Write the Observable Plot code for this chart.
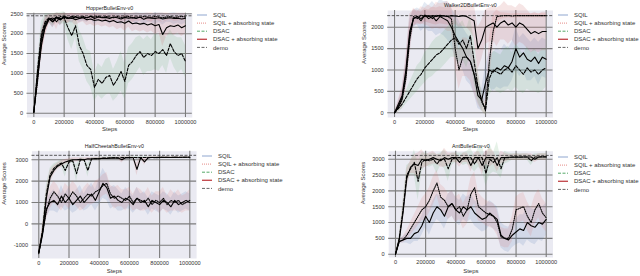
<!DOCTYPE html>
<html><head><meta charset="utf-8">
<script src="https://cdn.jsdelivr.net/npm/d3@7"></script>
<script src="https://cdn.jsdelivr.net/npm/@observablehq/plot@0.6"></script>
<style>
body{margin:0;background:#fff;}
#root{position:relative;width:640px;height:276px;overflow:hidden;font-family:"Liberation Sans",sans-serif;}
.panel{position:absolute;}
</style></head><body><div id="root"></div>
<script>
const steps = [0,25000,50000,75000,100000,125000,150000,175000,200000,225000,250000,275000,300000,325000,350000,375000,400000,425000,450000,475000,500000,525000,550000,575000,600000,625000,650000,675000,700000,725000,750000,775000,800000,825000,850000,875000,900000,925000,950000,975000,1000000];
const xTicks = [0,200000,400000,600000,800000,1000000];
const seriesNames = ["SQIL","SQIL + absorbing state","DSAC","DSAC + absorbing state"];
const legendNames = ["SQIL","SQIL + absorbing state","DSAC","DSAC + absorbing state","demo"];
const titles = ["HopperBulletEnv-v0","Walker2DBulletEnv-v0","HalfCheetahBulletEnv-v0","AntBulletEnv-v0"];
const xLabel = "Steps";
const yLabel = "Average Scores";
const demoScores = [2450, 2270, 3210, 3120];
const yTicksHopper = [0,500,1000,1500,2000,2500];
const yTicksWalker = [0,500,1000,1500,2000];
const yTicksCheetah = [-1000,0,1000,2000,3000];
const yTicksAnt = [0,500,1000,1500,2000,2500,3000];

// Hopper
const hopperSQIL = [20,1000,1900,2250,2380,2300,2420,2350,2440,2400,2380,2430,2390,2420,2400,2440,2380,2420,2400,2410,2380,2420,2400,2370,2410,2390,2400,2380,2420,2360,2400,2390,2380,2400,2370,2390,2400,2380,2390,2370,2390];
const hopperSQILAbs = [30,800,1800,2150,2350,2400,2300,2430,2410,2380,2440,2400,2420,2430,2400,2430,2420,2440,2410,2430,2420,2400,2430,2410,2420,2430,2400,2420,2410,2430,2420,2410,2430,2420,2400,2420,2430,2410,2420,2430,2420];
const hopperDSAC = [10,1100,2000,2300,2400,2350,2420,2380,2400,2150,1950,2200,1700,1500,1200,1100,650,850,750,900,950,700,850,1050,800,1200,1300,1450,1550,1400,1500,1450,1550,1500,1600,1450,1750,1550,1450,1500,1300];
const hopperDSACAbs = [40,900,1700,2200,2380,2300,2400,2350,2420,2380,2400,2350,2380,2400,2350,2370,2330,2350,2320,2340,2300,2330,2280,2300,2260,2320,2250,2270,2240,2260,2220,2250,2200,2230,1980,2150,2200,2180,2220,2150,2200];
const hopperSQILSpread = [0,200,250,150,100,150,100,150,80,100,120,80,100,100,120,80,150,100,120,100,150,100,120,150,100,120,100,150,100,160,120,100,150,120,150,100,120,150,120,150,120];
const hopperSQILAbsSpread = [0,250,300,200,120,100,200,80,100,120,80,100,80,80,100,80,100,80,100,80,100,120,80,100,100,80,120,100,100,80,100,120,80,100,120,100,80,100,100,80,100];
const hopperDSACSpread = [0,200,300,200,100,150,100,150,150,300,350,300,400,400,400,450,350,400,400,450,450,400,450,500,450,450,450,450,400,450,450,400,450,450,400,450,350,400,450,400,400];
const hopperDSACAbsSpread = [0,250,300,250,100,150,120,150,100,120,100,150,120,100,150,130,150,130,150,140,160,150,180,160,200,150,200,180,200,180,200,180,220,200,300,220,200,220,200,220,200];

// Walker
const walkerSQIL = [0,150,350,900,1800,2200,2250,2150,2280,2200,2250,2150,2250,2200,2150,2000,1800,1650,1500,1300,1200,900,400,300,700,1000,950,1050,1000,1100,1050,1200,1500,1300,1400,1250,1200,1300,1150,1300,1250];
const walkerSQILAbs = [0,120,300,800,1700,2250,2200,2280,2250,2270,2200,2280,2250,2270,2250,2200,1500,1000,1300,1300,1200,900,600,250,100,1200,1900,2250,2260,2270,2270,2260,2270,2270,2270,2270,2270,2270,2270,2270,2270];
const walkerDSAC = [0,100,200,350,500,650,800,900,1050,1150,1250,1350,1400,1500,1600,1700,1750,1600,1700,1500,1800,1200,600,300,50,800,1000,950,900,1000,1050,950,1100,1000,900,1050,950,1000,900,1000,1050];
const walkerDSACAbs = [0,200,400,1000,1900,2200,2250,2200,2280,2250,2270,2250,2280,2260,2250,2270,2260,2250,2270,2250,2200,2150,1500,1700,2000,2050,2100,2000,2100,2150,2050,2100,2000,2100,2050,1950,1850,1900,1850,1900,1900];
const walkerSQILSpread = [0,100,200,300,400,200,200,250,300,300,350,350,400,400,450,450,500,500,500,550,550,450,300,250,400,400,450,450,450,500,450,450,500,450,450,500,450,450,500,450,450];
const walkerSQILAbsSpread = [0,100,200,300,400,200,150,200,200,250,250,300,300,300,350,300,450,450,450,450,450,450,400,200,150,500,400,150,80,60,50,50,50,50,50,50,50,50,50,50,50];
const walkerDSACSpread = [0,80,120,150,200,250,300,300,350,350,400,400,400,400,400,400,450,450,450,450,450,500,350,250,100,400,450,450,450,500,500,450,500,500,450,500,450,500,450,500,450];
const walkerDSACAbsSpread = [0,100,200,300,400,200,150,150,150,150,200,200,200,200,200,250,200,250,250,250,300,400,500,450,400,400,400,450,400,450,450,400,450,450,450,450,450,450,450,450,450];

// HalfCheetah
const cheetahSQIL = [-1350,-500,700,1000,1100,900,1300,1000,1200,900,1100,1300,1000,1200,1400,1100,1500,1900,1700,1200,1300,1100,1000,1200,1100,900,1200,1000,1100,800,1100,1000,900,1100,1000,800,1100,900,1000,1100,1000];
const cheetahSQILAbs = [-1300,-400,600,1200,1500,1300,1000,1400,1200,1500,1300,1000,1200,1400,1300,1500,1600,1800,1900,1400,1200,1300,1200,1100,1300,1000,1200,1100,1000,1200,900,1100,1000,1200,900,1100,1000,1100,900,1000,1100];
const cheetahDSAC = [-1400,-300,1400,2300,2600,2750,2850,2500,2900,2950,2350,3000,3000,2500,3050,3050,3050,3080,3080,3090,3100,3080,3100,3100,3100,3110,3100,3100,3110,3100,3110,3100,3110,3120,3110,3110,3120,3120,3110,3120,3120];
const cheetahDSACAbs = [-1350,-400,1200,2200,2500,2700,2800,2900,2950,3000,3000,3020,3000,3050,3040,3060,3050,3070,3060,3080,3080,3090,3000,3100,3100,3100,2550,3100,2900,3100,3110,3110,3120,3110,3120,3110,3120,3110,3120,3120,3120];
const cheetahSQILSpread = [0,300,400,400,500,400,500,400,500,400,500,500,400,500,500,500,600,700,600,500,500,500,400,500,400,400,500,400,400,400,400,400,400,400,400,400,400,400,400,400,400];
const cheetahSQILAbsSpread = [0,300,400,500,500,500,400,500,500,500,500,400,500,500,400,500,500,500,500,400,500,500,400,500,400,400,500,500,400,500,400,400,500,500,400,500,400,500,400,400,500];
const cheetahDSACSpread = [0,300,400,300,200,150,150,300,100,100,400,80,80,300,60,60,60,50,50,50,40,50,40,40,40,40,40,40,40,40,40,40,40,40,40,40,40,40,40,40,40];
const cheetahDSACAbsSpread = [0,300,400,300,200,150,150,120,100,100,100,80,80,60,60,60,60,50,50,50,40,40,150,40,40,40,300,40,150,40,40,40,40,40,40,40,40,40,40,40,40];

// Ant
const antSQIL = [0,400,450,500,500,650,700,900,1200,1000,1300,1500,1400,1200,1500,1600,1400,1300,1500,1400,1500,1300,1200,1100,1150,1300,1200,1100,600,500,450,600,700,800,750,1000,900,850,1000,950,1100];
const antSQILAbs = [0,400,450,600,800,1000,1200,1400,1500,1700,2000,2250,1800,1700,1500,1600,1400,1500,1200,1400,1900,2100,1500,1400,1300,1250,1200,1000,550,500,500,800,1400,1450,1500,1200,1000,1400,1600,1300,1150];
const antDSAC = [0,500,1400,2500,2700,2900,2300,2900,3000,2950,3000,2850,3000,3000,2700,3000,3050,3050,3000,3050,3050,2850,3050,3050,2550,3000,2900,3050,2700,3050,3050,3070,3070,3070,3070,3070,2950,3070,3070,3080,3080];
const antDSACAbs = [0,450,1300,2400,2750,2850,2800,3000,2950,3000,3050,3000,2950,3050,3000,3050,3050,2900,3050,3050,2800,3050,3050,2800,3050,3050,3050,2800,3050,3050,3060,3060,3070,3060,3070,3070,3070,3000,3070,3070,3070];
const antSQILSpread = [0,50,100,150,200,250,300,300,350,400,400,400,400,400,400,400,400,400,400,400,400,400,400,400,400,400,400,400,400,400,400,400,400,450,500,550,550,550,550,550,500];
const antSQILAbsSpread = [0,50,100,150,200,250,300,350,400,400,450,400,400,400,400,400,400,400,400,450,500,500,450,400,400,400,400,400,300,300,300,400,400,450,450,450,450,450,450,450,450];
const antDSACSpread = [0,100,300,300,200,400,600,300,200,200,200,300,200,300,400,200,150,150,200,200,300,250,300,400,400,500,300,500,300,200,150,100,100,100,100,100,150,100,100,100,100];
const antDSACAbsSpread = [0,100,300,300,200,300,400,300,200,200,200,150,200,300,200,150,150,150,150,150,200,150,200,300,200,300,200,200,200,150,100,100,100,100,100,100,100,100,100,100,100];

const bandColors = ["#4c72b0","#dd6b66","#55a868","#c44e52"];
const legendColors = ["#8fa6cf","#e58a86","#55a868","#c44e52","#666666"];
const lineDash = [null,"1,1.2","3,1.5",null];
const legendDash = [null,"1,1","3,1.5",null,"3,1.5"];
const FONT = "Liberation Sans, Arial, sans-serif";

const panels = [
  {title:titles[0], left:0, top:0, w:200, h:138, mL:26.5, mR:8.2, mT:12.7, mB:21, yDomain:[-108,2515], yTicks:yTicksHopper, demo:demoScores[0],
   series:[hopperSQIL,hopperSQILAbs,hopperDSAC,hopperDSACAbs], spreads:[hopperSQILSpread,hopperSQILAbsSpread,hopperDSACSpread,hopperDSACAbsSpread], legX:196, legY:15.3, xl:13, yl:-22.5},
  {title:titles[1], left:360, top:0, w:200, h:138, mL:27.2, mR:7.5, mT:10, mB:21, yDomain:[-110,2390], yTicks:yTicksWalker, demo:demoScores[1],
   series:[walkerSQIL,walkerSQILAbs,walkerDSAC,walkerDSACAbs], spreads:[walkerSQILSpread,walkerSQILAbsSpread,walkerDSACSpread,walkerDSACAbsSpread], legX:557, legY:15.3, xl:13, yl:-24},
  {title:titles[2], left:0, top:138, w:205, h:138, mL:31.5, mR:8.9, mT:12.7, mB:18, yDomain:[-1623,3403], yTicks:yTicksCheetah, demo:demoScores[2],
   series:[cheetahSQIL,cheetahSQILAbs,cheetahDSAC,cheetahDSACAbs], spreads:[cheetahSQILSpread,cheetahSQILAbsSpread,cheetahDSACSpread,cheetahDSACAbsSpread], legX:201, legY:155.7, xl:14.5, yl:-28},
  {title:titles[3], left:360, top:138, w:200, h:138, mL:28.2, mR:7.5, mT:12.7, mB:19, yDomain:[-104,3253], yTicks:yTicksAnt, demo:demoScores[3],
   series:[antSQIL,antSQILAbs,antDSAC,antDSACAbs], spreads:[antSQILSpread,antSQILAbsSpread,antDSACSpread,antDSACAbsSpread], legX:557, legY:156.7, xl:15, yl:-25.5}
];

const root = document.getElementById("root");

for (const p of panels) {
  const rows = p.series.map((s, i) => steps.map((x, j) => ({x, y: s[j], lo: s[j] - p.spreads[i][j], hi: s[j] + p.spreads[i][j]})));
  const marks = [
    Plot.frame({fill:"#eaeaf2", stroke:null}),
    Plot.gridX(xTicks, {stroke:"#7c7c7c", strokeOpacity:1, strokeWidth:1.1}),
    Plot.gridY(p.yTicks, {stroke:"#7c7c7c", strokeOpacity:1, strokeWidth:1.1}),
    ...rows.map((r, i) => Plot.areaY(r, {x:"x", y1:"lo", y2:"hi", fill:bandColors[i], fillOpacity:0.15})),
    Plot.ruleY([p.demo], {stroke:"#333", strokeWidth:0.8, strokeDasharray:"3,1.5"}),
    ...rows.map((r, i) => Plot.lineY(r, {x:"x", y:"y", stroke:"#000", strokeWidth:1.1, strokeDasharray:lineDash[i]})),
    Plot.axisX(xTicks, {tickSize:0, tickPadding:2.5, fontSize:5.6, tickFormat:d => String(d), label:null}),
    Plot.axisY(p.yTicks, {tickSize:0, tickPadding:4, fontSize:5.6, tickFormat:d => String(d), label:null}),
    Plot.text([xLabel], {text:d => d, frameAnchor:"bottom", dy:p.xl, fontSize:6, fill:"#333"}),
    Plot.text([yLabel], {text:d => d, frameAnchor:"left", dx:p.yl, rotate:-90, fontSize:6, fill:"#333"}),
    Plot.text([p.title], {text:d => d, frameAnchor:"top", dy:-7, fontSize:5.3, fill:"#222"})
  ];
  const chart = Plot.plot({
    width:p.w, height:p.h, marginLeft:p.mL, marginRight:p.mR, marginTop:p.mT, marginBottom:p.mB,
    x:{domain:[-45000,1045000], axis:null}, y:{domain:p.yDomain, axis:null},
    style:{fontFamily:FONT, fontSize:"6px", color:"#333", background:"transparent", overflow:"visible"},
    marks
  });
  const wrap = document.createElement("div");
  wrap.className = "panel";
  wrap.style.left = p.left + "px";
  wrap.style.top = p.top + "px";
  wrap.appendChild(chart);
  root.appendChild(wrap);

  // legend
  const leg = d3.create("svg").attr("width", 84).attr("height", 46)
    .style("position","absolute").style("left", p.legX + "px").style("top", (p.legY - 4) + "px")
    .style("font-family", FONT);
  legendNames.forEach((name, i) => {
    const y = 4 + i * 8.1;
    leg.append("line").attr("x1", 1).attr("x2", 11).attr("y1", y).attr("y2", y)
      .attr("stroke", legendColors[i]).attr("stroke-width", i === 3 ? 1.4 : 1)
      .attr("stroke-dasharray", legendDash[i]);
    leg.append("text").attr("x", 17).attr("y", y).attr("dy", "0.35em")
      .attr("font-size", 6).attr("fill", "#333").text(name);
  });
  root.appendChild(leg.node());
}
</script>
</body></html>
